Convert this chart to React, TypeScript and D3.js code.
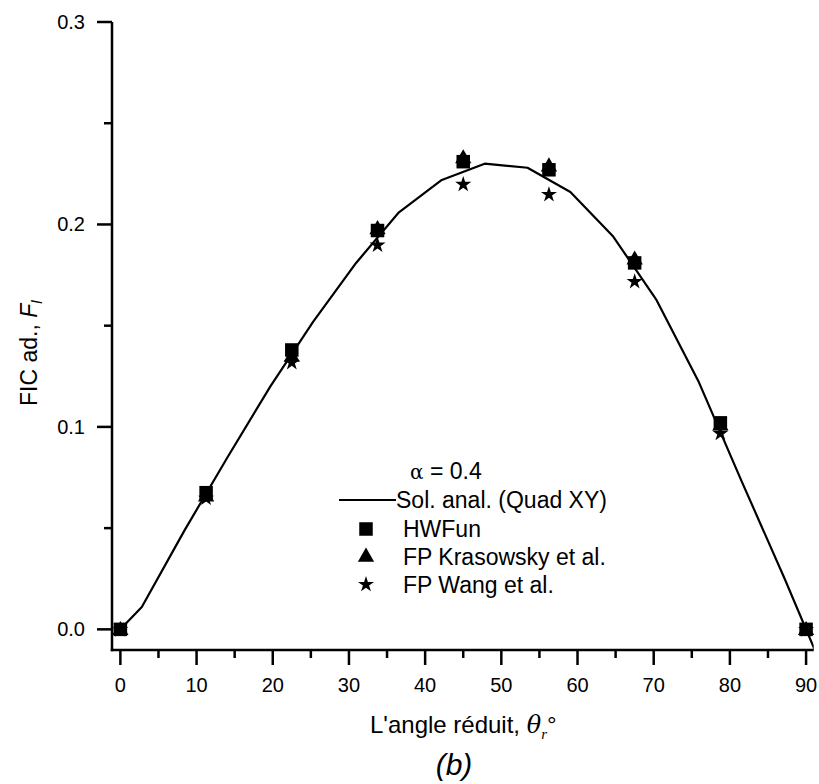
import React from "react";
import * as d3 from "d3";

const thetaPts = [0, 11.25, 22.5, 33.75, 45, 56.25, 67.5, 78.75, 90];
const hwfun = [0, 0.0675, 0.138, 0.197, 0.231, 0.227, 0.181, 0.102, 0];
const krasowsky = [0, 0.066, 0.135, 0.198, 0.233, 0.229, 0.183, 0.101, 0];
const wang = [0, 0.065, 0.132, 0.19, 0.22, 0.215, 0.172, 0.097, 0];

const analTheta = [0, 2.8125, 8.4375, 14.0625, 19.6875, 25.3125, 30.9375, 36.5625, 42.1875, 47.8125, 53.4375, 59.0625, 64.6875, 70.3125, 75.9375, 81.5625, 87.1875, 92.8125];
const analF = [0, 0.011, 0.049, 0.085, 0.12, 0.152, 0.181, 0.206, 0.222, 0.23, 0.228, 0.216, 0.194, 0.163, 0.122, 0.073, 0.025, -0.025];

const xMajor = [0, 10, 20, 30, 40, 50, 60, 70, 80, 90];
const xMinor = [5, 15, 25, 35, 45, 55, 65, 75, 85];
const yMajor = [0, 0.1, 0.2, 0.3];
const yMinor = [0.05, 0.15, 0.25];

const FONT = "'Liberation Sans', Arial, Helvetica, sans-serif";

export default function App() {
  const x = d3.scaleLinear().domain([-1.1, 91]).range([112, 813.7]);
  const y = d3.scaleLinear().domain([-0.0102, 0.3]).range([650, 22]);
  const line = d3
    .line<number>()
    .x((_, i) => x(analTheta[i]))
    .y((d) => y(d));
  const starPath = d3.symbol(d3.symbolStar, 80)() || "";
  const triPath = d3.symbol(d3.symbolTriangle, 115)() || "";
  const sq = 13.5;
  const x0 = x.range()[0];
  const y0 = y.range()[0];

  const Square = ({ cx, cy }: { cx: number; cy: number }) => (
    <rect x={cx - sq / 2} y={cy - sq / 2} width={sq} height={sq} fill="#000" />
  );
  const Tri = ({ cx, cy }: { cx: number; cy: number }) => (
    <path d={triPath} transform={`translate(${cx},${cy + 1})`} fill="#000" />
  );
  const Star = ({ cx, cy }: { cx: number; cy: number }) => (
    <path d={starPath} transform={`translate(${cx},${cy + 0.5})`} fill="#000" />
  );

  return (
    <svg
      width={819}
      height={784}
      style={{ position: "absolute", left: 0, top: 0, background: "#fff" }}
      fontFamily={FONT}
    >
      <defs>
        <clipPath id="plotclip">
          <rect x={x0} y={22} width={813.7 - x0} height={y0 - 22} />
        </clipPath>
      </defs>
      <rect x={0} y={0} width={819} height={784} fill="#fff" />

      {/* axes */}
      <g stroke="#000" strokeWidth={2.5} fill="none">
        <line x1={x0} y1={y(0.3)} x2={x0} y2={y0 + 1.25} />
        <line x1={x0 - 1.25} y1={y0} x2={813.7} y2={y0} />
        {yMajor.map((v) => (
          <line key={"ym" + v} x1={x0 - 15} x2={x0} y1={y(v)} y2={y(v)} />
        ))}
        {yMinor.map((v) => (
          <line key={"yn" + v} x1={x0 - 8} x2={x0} y1={y(v)} y2={y(v)} />
        ))}
        {xMajor.map((v) => (
          <line key={"xm" + v} x1={x(v)} x2={x(v)} y1={y0} y2={y0 + 15} />
        ))}
        {xMinor.map((v) => (
          <line key={"xn" + v} x1={x(v)} x2={x(v)} y1={y0} y2={y0 + 8} />
        ))}
      </g>
      <g fontSize={20} fill="#000">
        {yMajor.map((v) => (
          <text key={"yl" + v} x={85} y={y(v) + 7} textAnchor="end">
            {v.toFixed(1)}
          </text>
        ))}
        {xMajor.map((v) => (
          <text key={"xl" + v} x={x(v)} y={692} textAnchor="middle">
            {v}
          </text>
        ))}
      </g>

      {/* analytical line */}
      <path
        d={line(analF) || ""}
        fill="none"
        stroke="#000"
        strokeWidth={2.2}
        strokeLinejoin="round"
        clipPath="url(#plotclip)"
      />

      {/* markers */}
      {thetaPts.map((t, i) => (
        <Square key={"s" + i} cx={x(t)} cy={y(hwfun[i])} />
      ))}
      {thetaPts.map((t, i) => (
        <Tri key={"t" + i} cx={x(t)} cy={y(krasowsky[i])} />
      ))}
      {thetaPts.map((t, i) => (
        <Star key={"w" + i} cx={x(t)} cy={y(wang[i])} />
      ))}

      {/* legend */}
      <g fontSize={23} fill="#000">
        <text x={410} y={479}>
          <tspan fontFamily="'DejaVu Serif', serif" fontSize={20}>α</tspan>
          <tspan> = 0.4</tspan>
        </text>
        <line x1={339} x2={396} y1={500} y2={500} stroke="#000" strokeWidth={2.2} />
        <text x={396} y={508}>Sol. anal. (Quad XY)</text>
        <Square cx={366} cy={529} />
        <text x={403} y={537}>HWFun</text>
        <Tri cx={366} cy={556} />
        <text x={403} y={565}>FP Krasowsky et al.</text>
        <Star cx={366} cy={584} />
        <text x={403} y={593}>FP Wang et al.</text>
      </g>

      {/* axis titles */}
      <text x={370} y={733} fontSize={24} fill="#000">
        L'angle réduit,{" "}
        <tspan fontFamily="'DejaVu Serif', 'Liberation Serif', serif" fontStyle="italic">θ</tspan>
        <tspan fontSize={15} dy={6} fontFamily="'Liberation Serif', serif" fontStyle="italic">r</tspan>
        <tspan dy={-6}>°</tspan>
      </text>
      <text
        transform="translate(36.5,406) rotate(-90)"
        fontSize={23}
        fill="#000"
      >
        FIC ad.,{" "}
        <tspan fontStyle="italic">F</tspan>
        <tspan fontSize={15} dy={5} fontStyle="italic">l</tspan>
      </text>
      <text x={454} y={775} fontSize={30} fontStyle="italic" textAnchor="middle" fill="#000">
        (b)
      </text>
    </svg>
  );
}
